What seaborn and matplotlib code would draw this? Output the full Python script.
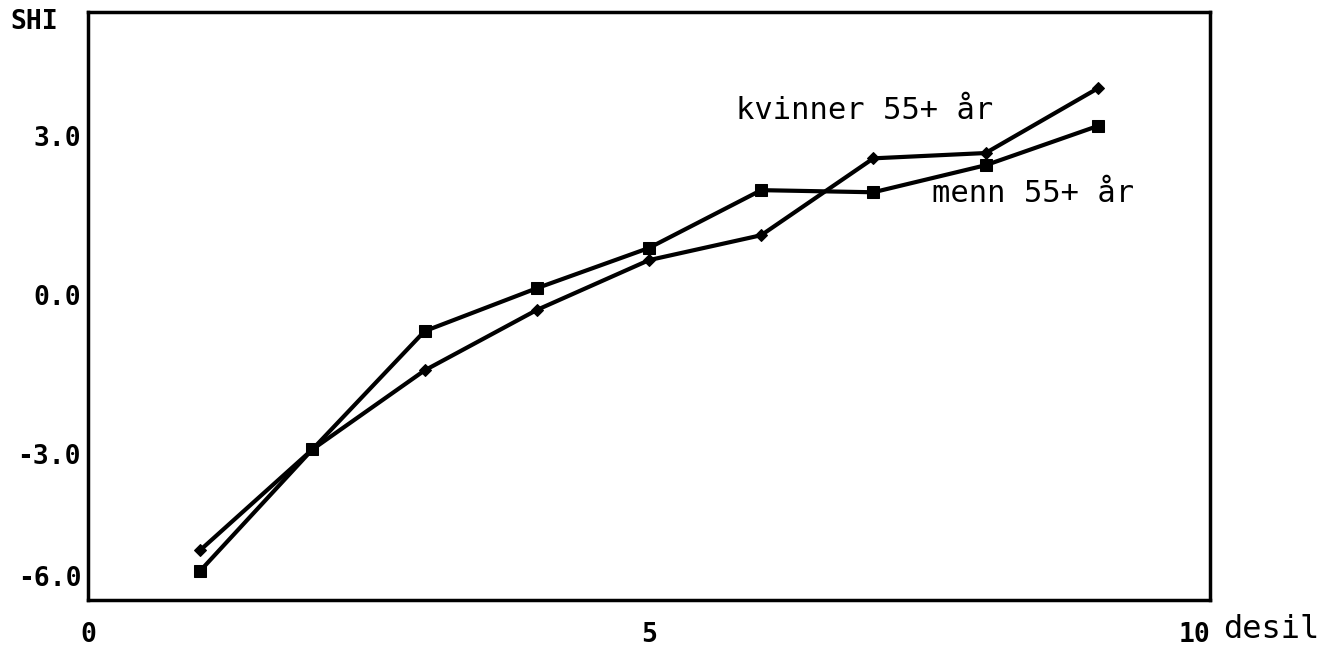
import pandas as pd
import matplotlib
matplotlib.use("Agg")
import matplotlib.pyplot as plt
import seaborn as sns

# --- data ---
desil = [1, 2, 3, 4, 5, 6, 7, 8, 9]
kvinner = [-4.81, -2.91, -1.42, -0.28, 0.66, 1.13, 2.58, 2.68, 3.90]
menn = [-5.20, -2.91, -0.68, 0.13, 0.89, 1.98, 1.94, 2.45, 3.19]
ytick_vals = [3.0, 0.0, -3.0]
ytick_labels = ["3.0", "0.0", "-3.0"]
xtick_vals = [0, 5, 10]
xtick_labels = ["0", "5", "10"]

df = pd.DataFrame({
    "desil": desil * 2,
    "SHI": kvinner + menn,
    "gruppe": ["kvinner"] * len(desil) + ["menn"] * len(desil),
})

sns.set_style("white")
plt.rcParams["font.family"] = ["DejaVu Sans Mono", "DejaVu Sans"]
plt.rcParams["text.color"] = "black"
plt.rcParams["xtick.color"] = "black"
plt.rcParams["ytick.color"] = "black"

fig = plt.figure(figsize=(13.39, 6.53), dpi=100)
ax = fig.add_axes([88 / 1339, 53 / 653, 1122 / 1339, 588 / 653])

sns.lineplot(data=df, x="desil", y="SHI", hue="gruppe", style="gruppe",
             markers={"kvinner": "D", "menn": "s"}, dashes=False,
             palette={"kvinner": "black", "menn": "black"},
             markersize=8, linewidth=3, legend=False, ax=ax,
             markeredgecolor="black")
# diamonds are a touch smaller than the squares
ax.lines[0].set_markersize(6)

ax.set_xlim(0, 10)
ax.set_ylim(-5.75, 5.34)
ax.set_xticks(xtick_vals)
ax.set_xticklabels(xtick_labels, fontsize=19, fontweight="bold")
ax.set_yticks(ytick_vals)
ax.set_yticklabels(ytick_labels, fontsize=19, fontweight="bold")
ax.tick_params(axis="y", length=0, pad=5)
ax.tick_params(axis="x", length=0, pad=16)
# last x label sits just left of the corner so it does not run into "desil"
ax.get_xticklabels()[-1].set_horizontalalignment("right")
ax.set_xlabel("")
ax.set_ylabel("")
for s in ax.spines.values():
    s.set_linewidth(2.5)
    s.set_color("black")

# -6.0 label is pinned to the bottom edge in the original
ax.text(-0.006, 0.035, "-6.0", transform=ax.transAxes, ha="right", va="center",
        fontsize=19, fontweight="bold")
fig.text(10 / 1339, 1 - 22 / 653, "SHI", ha="left", va="center",
         fontsize=19, fontweight="bold")
fig.text(1223 / 1339, 1 - 629 / 653, "desil", ha="left", va="center", fontsize=23)

ax.text(6.92, 3.49, "kvinner 55+ år", ha="center", va="center", fontsize=22)
ax.text(8.42, 1.92, "menn 55+ år", ha="center", va="center", fontsize=22)

fig.savefig("out.png", dpi=100, facecolor="white")
